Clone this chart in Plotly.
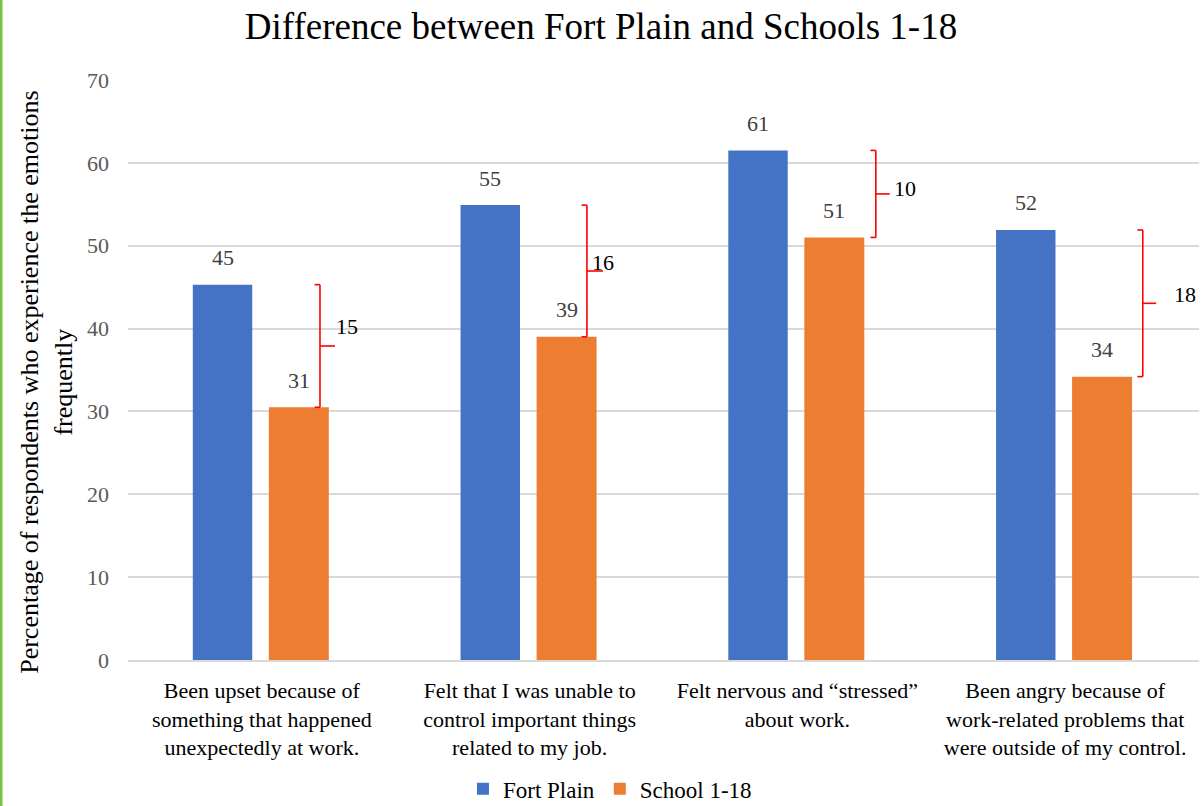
import plotly.graph_objects as go

categories = [
    "Been upset because of<br>something that happened<br>unexpectedly at work.",
    "Felt that I was unable to<br>control important things<br>related to my job.",
    "Felt nervous and \u201cstressed\u201d<br>about work.",
    "Been angry because of<br>work-related problems that<br>were outside of my control.",
]
fort_plain = [45.3, 54.9, 61.5, 51.9]
school = [30.5, 39.0, 51.0, 34.2]
fort_labels = ["45", "55", "61", "52"]
school_labels = ["31", "39", "51", "34"]
diff_labels = ["15", "16", "10", "18"]

# bracket styling (positions relative to category centre, in category units)
bracket_x = [0.217, 0.214, 0.293, 0.29]
bracket_tick = [0.056, 0.06, 0.052, 0.05]
label_dx = [0.318, 0.274, 0.403, 0.447]
label_dy = [2.4, 1.0, 0.7, 1.1]

FONT = "Liberation Serif"
BLUE = "#4472C4"
ORANGE = "#ED7D31"
RED = "#FF0000"

xs = list(range(len(categories)))
B_OFF, B_W = -0.258, 0.222
O_OFF, O_W = 0.026, 0.224

fig = go.Figure()
fig.add_trace(go.Bar(x=xs, y=fort_plain, name="Fort Plain", marker_color=BLUE,
                     offset=B_OFF, width=B_W, marker_line_width=0))
fig.add_trace(go.Bar(x=xs, y=school, name="School 1-18", marker_color=ORANGE,
                     offset=O_OFF, width=O_W, marker_line_width=0))

ann = []
for i in xs:
    ann.append(dict(x=i + B_OFF + B_W / 2, y=fort_plain[i], text=fort_labels[i], showarrow=False,
                    yshift=27, font=dict(family=FONT, size=22, color="#404040")))
    ann.append(dict(x=i + O_OFF + O_W / 2, y=school[i], text=school_labels[i], showarrow=False,
                    yshift=27, font=dict(family=FONT, size=22, color="#404040")))
    bx = i + bracket_x[i]
    top, bot = fort_plain[i], school[i]
    mid = (top + bot) / 2
    line = dict(color=RED, width=1.6)
    fig.add_shape(type="line", x0=bx, x1=bx, y0=bot, y1=top, line=line)
    fig.add_shape(type="line", x0=bx - 0.02, x1=bx, y0=top, y1=top, line=line)
    fig.add_shape(type="line", x0=bx - 0.02, x1=bx, y0=bot, y1=bot, line=line)
    fig.add_shape(type="line", x0=bx, x1=bx + bracket_tick[i], y0=mid, y1=mid, line=line)
    ann.append(dict(x=i + label_dx[i], y=mid + label_dy[i], text=diff_labels[i], showarrow=False,
                    font=dict(family=FONT, size=22, color="#000000")))

ann.append(dict(xref="paper", yref="paper", x=-0.076, y=0.479, xanchor="center", yanchor="middle",
                textangle=-90, showarrow=False,
                text="Percentage of respondents who experience the emotions<br>frequently",
                font=dict(family=FONT, size=26, color="#000000")))

# green left border of the screenshot
fig.add_shape(type="line", xref="paper", yref="paper", x0=-127 / 1071, x1=-127 / 1071,
              y0=-146 / 580, y1=1 + 80 / 580, line=dict(color="#7DC243", width=3))

fig.update_layout(
    width=1202, height=806,
    margin=dict(l=128, r=3, t=80, b=146, autoexpand=False),
    paper_bgcolor="white", plot_bgcolor="white",
    title=dict(text="Difference between Fort Plain and Schools 1-18", x=0.5, xref="container",
               xanchor="center", y=1 - 26 / 806, yanchor="middle",
               font=dict(family=FONT, size=37, color="#000000")),
    font=dict(family=FONT, color="#000000"),
    barmode="group",
    showlegend=True,
    legend=dict(orientation="h", x=0.45, xanchor="center", y=-0.222, yanchor="middle",
                font=dict(family=FONT, size=23, color="#000000"), itemwidth=30,
                traceorder="normal"),
    annotations=ann,
)
fig.update_xaxes(range=[-0.5, 3.5], tickvals=xs, ticktext=categories, showgrid=False,
                 showline=True, linecolor="#D9D9D9", linewidth=1.5, ticks="",
                 ticklabelstandoff=10, automargin=False,
                 tickfont=dict(family=FONT, size=22, color="#000000"), zeroline=False)
fig.update_yaxes(range=[0, 70], dtick=10, showgrid=True, gridcolor="#D9D9D9", gridwidth=1.5,
                 zeroline=False, ticks="", ticklabelstandoff=18, automargin=False,
                 tickfont=dict(family=FONT, size=22, color="#595959"))

fig.write_html("out.html")
